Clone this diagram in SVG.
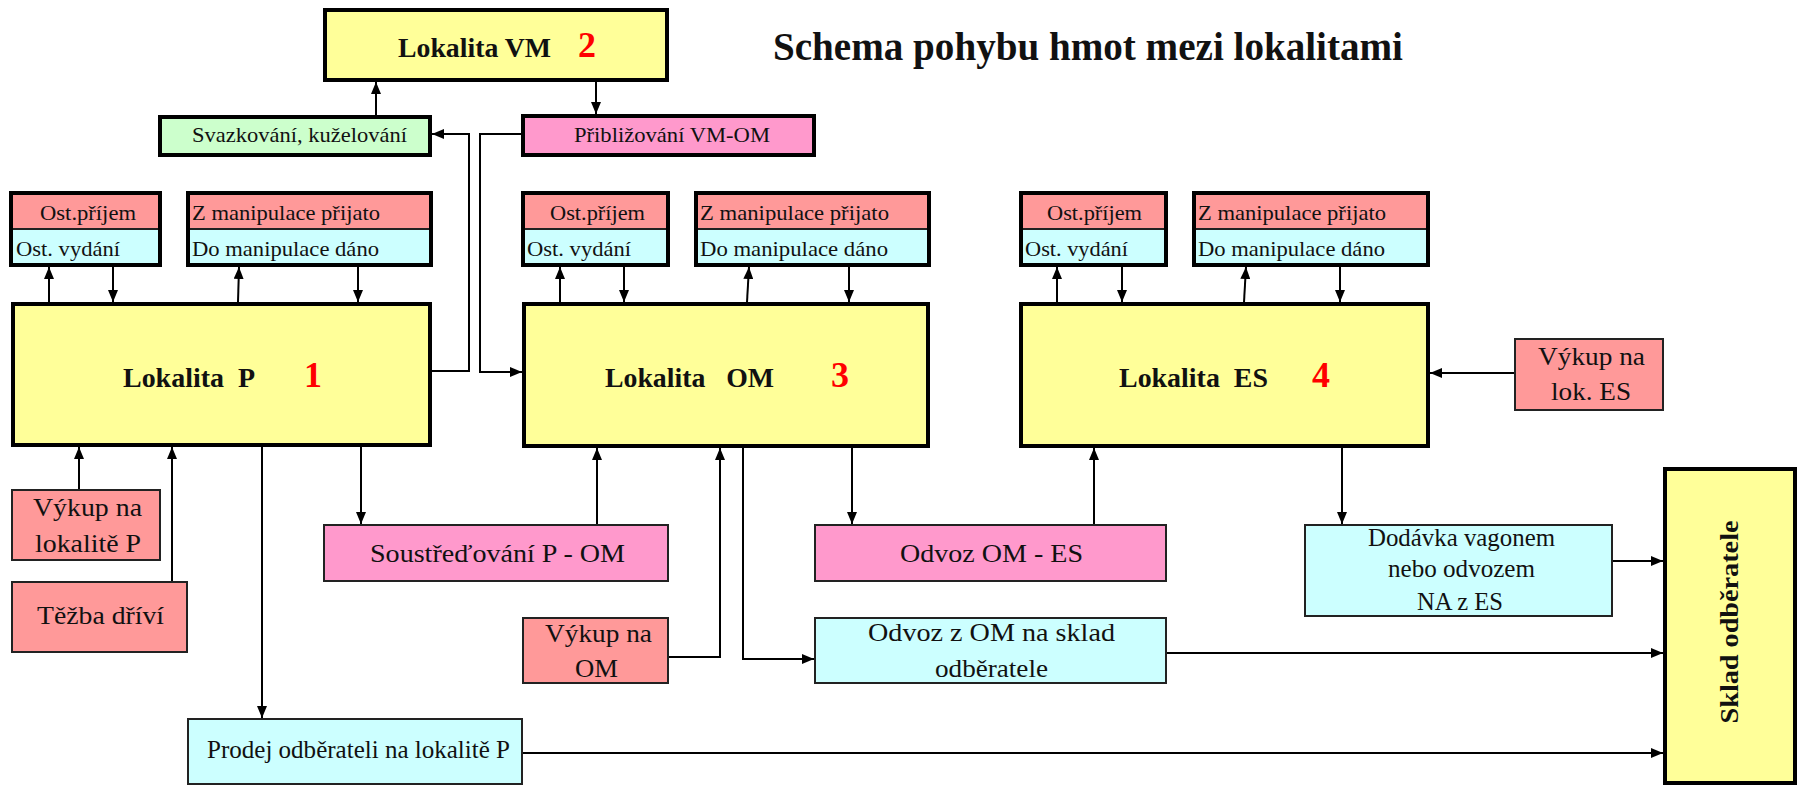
<svg xmlns="http://www.w3.org/2000/svg" width="1806" height="787" viewBox="0 0 1806 787">
<defs>
<marker id="ah" markerUnits="userSpaceOnUse" markerWidth="12" markerHeight="10" refX="12" refY="5" orient="auto">
<path d="M0,0 L12,5 L0,10 z" fill="#000"/>
</marker>
<style>
text{font-family:"Liberation Serif","DejaVu Serif","Times New Roman",serif;fill:#111}
.thick{stroke:#000;stroke-width:4}
.thin{stroke:#222;stroke-width:2}
.yel{fill:#FFFF99}.sal{fill:#FF9999}.cya{fill:#CCFFFF}.mag{fill:#FF99CC}.grn{fill:#CCFFCC}
.b{font-weight:bold}
.s21{font-size:21px}.s26{font-size:26px}.s28{font-size:28px}
.num{font-size:36px;font-weight:bold;fill:#FF0000}
.conn{fill:none;stroke:#000;stroke-width:2}
.div{stroke:#222;stroke-width:2}
</style>
</defs>
<rect width="1806" height="787" fill="#fff"/>

<text class="b" x="773" y="60" font-size="39" textLength="630" lengthAdjust="spacingAndGlyphs">Schema pohybu hmot mezi lokalitami</text>

<g id="vm">
<rect class="yel thick" x="325" y="10" width="342" height="70"/>
<text class="b" x="398" y="57" font-size="27" textLength="153" lengthAdjust="spacingAndGlyphs">Lokalita VM</text>
<text class="num" x="578" y="57">2</text>
</g>

<g id="svazkovani">
<rect class="grn thick" x="160" y="117" width="270" height="38"/>
<text class="s21" x="192" y="142" textLength="215" lengthAdjust="spacingAndGlyphs">Svazkování, kuželování</text>
</g>

<g id="priblizovani">
<rect class="mag thick" x="523" y="116" width="291" height="39"/>
<text class="s21" x="574" y="142" textLength="196" lengthAdjust="spacingAndGlyphs">Přibližování VM-OM</text>
</g>

<g id="p-ost">
<rect class="sal" x="11" y="193" width="149" height="36"/>
<rect class="cya" x="11" y="229" width="149" height="36"/>
<line class="div" x1="11" y1="229" x2="160" y2="229"/>
<rect fill="none" class="thick" x="11" y="193" width="149" height="72"/>
<text class="s21" x="40" y="220" textLength="96" lengthAdjust="spacingAndGlyphs">Ost.příjem</text>
<text class="s21" x="16" y="256" textLength="104" lengthAdjust="spacingAndGlyphs">Ost. vydání</text>
</g>
<g id="p-manip">
<rect class="sal" x="188" y="193" width="243" height="36"/>
<rect class="cya" x="188" y="229" width="243" height="36"/>
<line class="div" x1="188" y1="229" x2="431" y2="229"/>
<rect fill="none" class="thick" x="188" y="193" width="243" height="72"/>
<text class="s21" x="192" y="220" textLength="188" lengthAdjust="spacingAndGlyphs">Z manipulace přijato</text>
<text class="s21" x="192" y="256" textLength="187" lengthAdjust="spacingAndGlyphs">Do manipulace dáno</text>
</g>

<g id="om-ost">
<rect class="sal" x="523" y="193" width="145" height="36"/>
<rect class="cya" x="523" y="229" width="145" height="36"/>
<line class="div" x1="523" y1="229" x2="668" y2="229"/>
<rect fill="none" class="thick" x="523" y="193" width="145" height="72"/>
<text class="s21" x="550" y="220" textLength="95" lengthAdjust="spacingAndGlyphs">Ost.příjem</text>
<text class="s21" x="527" y="256" textLength="104" lengthAdjust="spacingAndGlyphs">Ost. vydání</text>
</g>
<g id="om-manip">
<rect class="sal" x="696" y="193" width="233" height="36"/>
<rect class="cya" x="696" y="229" width="233" height="36"/>
<line class="div" x1="696" y1="229" x2="929" y2="229"/>
<rect fill="none" class="thick" x="696" y="193" width="233" height="72"/>
<text class="s21" x="700" y="220" textLength="189" lengthAdjust="spacingAndGlyphs">Z manipulace přijato</text>
<text class="s21" x="700" y="256" textLength="188" lengthAdjust="spacingAndGlyphs">Do manipulace dáno</text>
</g>

<g id="es-ost">
<rect class="sal" x="1021" y="193" width="145" height="36"/>
<rect class="cya" x="1021" y="229" width="145" height="36"/>
<line class="div" x1="1021" y1="229" x2="1166" y2="229"/>
<rect fill="none" class="thick" x="1021" y="193" width="145" height="72"/>
<text class="s21" x="1047" y="220" textLength="95" lengthAdjust="spacingAndGlyphs">Ost.příjem</text>
<text class="s21" x="1025" y="256" textLength="103" lengthAdjust="spacingAndGlyphs">Ost. vydání</text>
</g>
<g id="es-manip">
<rect class="sal" x="1194" y="193" width="234" height="36"/>
<rect class="cya" x="1194" y="229" width="234" height="36"/>
<line class="div" x1="1194" y1="229" x2="1428" y2="229"/>
<rect fill="none" class="thick" x="1194" y="193" width="234" height="72"/>
<text class="s21" x="1198" y="220" textLength="188" lengthAdjust="spacingAndGlyphs">Z manipulace přijato</text>
<text class="s21" x="1198" y="256" textLength="187" lengthAdjust="spacingAndGlyphs">Do manipulace dáno</text>
</g>

<g id="lokalita-p">
<rect class="yel thick" x="13" y="304" width="417" height="141"/>
<text class="b s28" x="123" y="387" xml:space="preserve" textLength="132" lengthAdjust="spacingAndGlyphs">Lokalita  P</text>
<text class="num" x="304" y="387">1</text>
</g>

<g id="lokalita-om">
<rect class="yel thick" x="524" y="304" width="404" height="142"/>
<text class="b s28" x="605" y="387" xml:space="preserve" textLength="169" lengthAdjust="spacingAndGlyphs">Lokalita   OM</text>
<text class="num" x="831" y="387">3</text>
</g>

<g id="lokalita-es">
<rect class="yel thick" x="1021" y="304" width="407" height="142"/>
<text class="b s28" x="1119" y="387" xml:space="preserve" textLength="149" lengthAdjust="spacingAndGlyphs">Lokalita  ES</text>
<text class="num" x="1312" y="387">4</text>
</g>

<g id="vykup-es">
<rect class="sal thin" x="1515" y="339" width="148" height="71"/>
<text class="s26" x="1538" y="365" textLength="107" lengthAdjust="spacingAndGlyphs">Výkup na</text>
<text class="s26" x="1551" y="400" textLength="80" lengthAdjust="spacingAndGlyphs">lok. ES</text>
</g>

<g id="vykup-p">
<rect class="sal thin" x="12" y="490" width="148" height="70"/>
<text class="s26" x="33" y="516" textLength="109" lengthAdjust="spacingAndGlyphs">Výkup na</text>
<text class="s26" x="35" y="552" textLength="106" lengthAdjust="spacingAndGlyphs">lokalitě P</text>
</g>

<g id="tezba">
<rect class="sal thin" x="12" y="582" width="175" height="70"/>
<text class="s26" x="37" y="624" textLength="127" lengthAdjust="spacingAndGlyphs">Těžba dříví</text>
</g>

<g id="soustredovani">
<rect class="mag thin" x="324" y="525" width="344" height="56"/>
<text class="s26" x="370" y="562" textLength="255" lengthAdjust="spacingAndGlyphs">Soustřeďování P - OM</text>
</g>

<g id="odvoz-om-es">
<rect class="mag thin" x="815" y="525" width="351" height="56"/>
<text class="s26" x="900" y="562" textLength="183" lengthAdjust="spacingAndGlyphs">Odvoz OM - ES</text>
</g>

<g id="dodavka">
<rect class="cya thin" x="1305" y="525" width="307" height="91"/>
<text class="s26" x="1368" y="546" textLength="187" lengthAdjust="spacingAndGlyphs">Dodávka vagonem</text>
<text class="s26" x="1388" y="577" textLength="147" lengthAdjust="spacingAndGlyphs">nebo odvozem</text>
<text class="s26" x="1417" y="610" textLength="86" lengthAdjust="spacingAndGlyphs">NA z ES</text>
</g>

<g id="vykup-om">
<rect class="sal thin" x="523" y="618" width="145" height="65"/>
<text class="s26" x="545" y="642" textLength="107" lengthAdjust="spacingAndGlyphs">Výkup na</text>
<text class="s26" x="575" y="677" textLength="43" lengthAdjust="spacingAndGlyphs">OM</text>
</g>

<g id="odvoz-z-om">
<rect class="cya thin" x="815" y="618" width="351" height="65"/>
<text class="s26" x="868" y="641" textLength="247" lengthAdjust="spacingAndGlyphs">Odvoz z OM na sklad</text>
<text class="s26" x="935" y="677" textLength="113" lengthAdjust="spacingAndGlyphs">odběratele</text>
</g>

<g id="prodej">
<rect class="cya thin" x="188" y="719" width="334" height="65"/>
<text class="s26" x="207" y="758" textLength="303" lengthAdjust="spacingAndGlyphs">Prodej odběrateli na lokalitě P</text>
</g>

<g id="sklad">
<rect class="yel thick" x="1665" y="469" width="130" height="314"/>
<text class="b" font-size="26" x="1738" y="622" text-anchor="middle" transform="rotate(-90 1738 622)" textLength="203" lengthAdjust="spacingAndGlyphs">Sklad odběratele</text>
</g>

<g id="connectors" class="conn">
<path class="conn" marker-end="url(#ah)" d="M376,115 V82"/>
<path class="conn" marker-end="url(#ah)" d="M596,82 V114"/>
<path class="conn" marker-end="url(#ah)" d="M432,371 H469 V134 H432"/>
<path class="conn" marker-end="url(#ah)" d="M521,134 H480 V372 H522"/>

<path class="conn" marker-end="url(#ah)" d="M49,302 V267"/>
<path class="conn" marker-end="url(#ah)" d="M113,267 V302"/>
<path class="conn" marker-end="url(#ah)" d="M238,302 L239,267"/>
<path class="conn" marker-end="url(#ah)" d="M358,267 V302"/>

<path class="conn" marker-end="url(#ah)" d="M560,302 V267"/>
<path class="conn" marker-end="url(#ah)" d="M624,267 V302"/>
<path class="conn" marker-end="url(#ah)" d="M747,302 L749,267"/>
<path class="conn" marker-end="url(#ah)" d="M849,267 V302"/>

<path class="conn" marker-end="url(#ah)" d="M1057,302 V267"/>
<path class="conn" marker-end="url(#ah)" d="M1122,267 V302"/>
<path class="conn" marker-end="url(#ah)" d="M1244,302 L1246,267"/>
<path class="conn" marker-end="url(#ah)" d="M1340,267 V302"/>

<path class="conn" marker-end="url(#ah)" d="M79,489 V447"/>
<path class="conn" marker-end="url(#ah)" d="M172,581 V447"/>
<path class="conn" marker-end="url(#ah)" d="M262,447 V718"/>
<path class="conn" marker-end="url(#ah)" d="M361,447 V524"/>

<path class="conn" marker-end="url(#ah)" d="M597,524 V448"/>
<path class="conn" marker-end="url(#ah)" d="M669,657 H720 V448"/>
<path class="conn" marker-end="url(#ah)" d="M743,448 V659 H814"/>
<path class="conn" marker-end="url(#ah)" d="M852,448 V524"/>

<path class="conn" marker-end="url(#ah)" d="M1094,524 V448"/>
<path class="conn" marker-end="url(#ah)" d="M1342,448 V524"/>
<path class="conn" marker-end="url(#ah)" d="M1514,373 H1430"/>

<path class="conn" marker-end="url(#ah)" d="M1613,561 H1663"/>
<path class="conn" marker-end="url(#ah)" d="M1167,653 H1663"/>
<path class="conn" marker-end="url(#ah)" d="M523,753 H1663"/>
</g>
</svg>
